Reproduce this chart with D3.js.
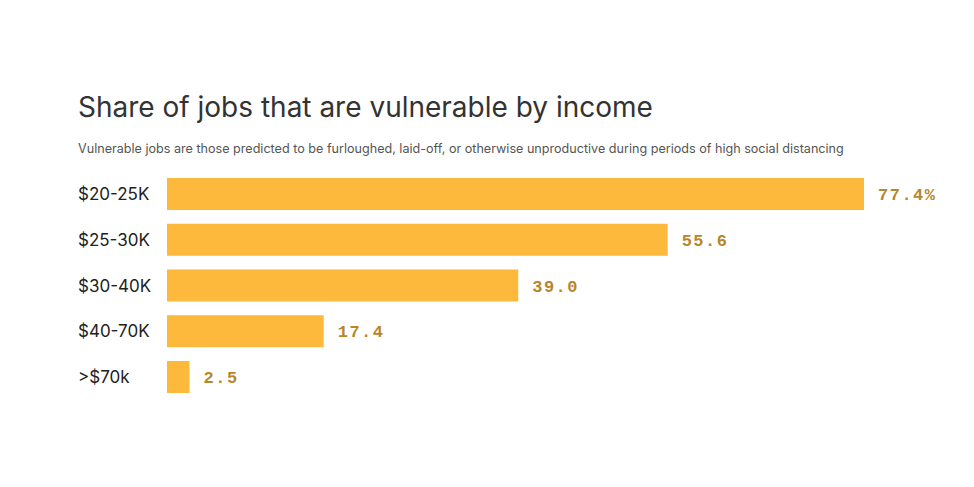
<!DOCTYPE html>
<html><head><meta charset="utf-8">
<script src="https://cdn.jsdelivr.net/npm/d3@7"></script>
<style>body{margin:0;background:#fff}</style>
</head><body><svg id="chart" width="974" height="487"></svg>
<script>
var categories = ['$20-25K', '$25-30K', '$30-40K', '$40-70K', '>$70k'];
var values = [77.4, 55.6, 39.0, 17.4, 2.5];
var valueLabels = ['77.4%', '55.6', '39.0', '17.4', '2.5'];

var svg = d3.select('#chart');

svg.append('text').attr('x', 78).attr('y', 117)
  .attr('font-family', 'Inter, sans-serif').attr('font-size', 28).attr('fill', '#333')
  .text('Share of jobs that are vulnerable by income');
svg.append('text').attr('x', 78).attr('y', 153)
  .attr('font-family', 'Inter, sans-serif').attr('font-size', 12.6).attr('fill', '#555')
  .text('Vulnerable jobs are those predicted to be furloughed, laid-off, or otherwise unproductive during periods of high social distancing');

var x = d3.scaleLinear().domain([0, 77.4]).range([167, 864]);
var y = d3.scaleBand().domain(categories).range([178, 393]).paddingInner(0.3).paddingOuter(0);

var rows = svg.selectAll('g.row').data(categories).enter().append('g').attr('class', 'row');

rows.append('rect')
  .attr('x', x(0)).attr('y', d => y(d))
  .attr('width', (d, i) => x(values[i]) - x(0))
  .attr('height', y.bandwidth())
  .attr('fill', '#fdb93c');

rows.append('text')
  .attr('x', 78).attr('y', d => y(d) + y.bandwidth() / 2 + 6)
  .attr('font-family', 'Inter, sans-serif').attr('font-size', 17).attr('fill', '#222')
  .text(d => d);

rows.append('text')
  .attr('x', (d, i) => x(values[i]) + 14).attr('y', d => y(d) + y.bandwidth() / 2 + 6)
  .attr('font-family', '"Liberation Mono", "DejaVu Sans Mono", monospace')
  .attr('font-weight', 'bold').attr('font-size', 17).attr('fill', '#b8862a')
  .attr('letter-spacing', 1.5)
  .text((d, i) => valueLabels[i]);
</script></body></html>
